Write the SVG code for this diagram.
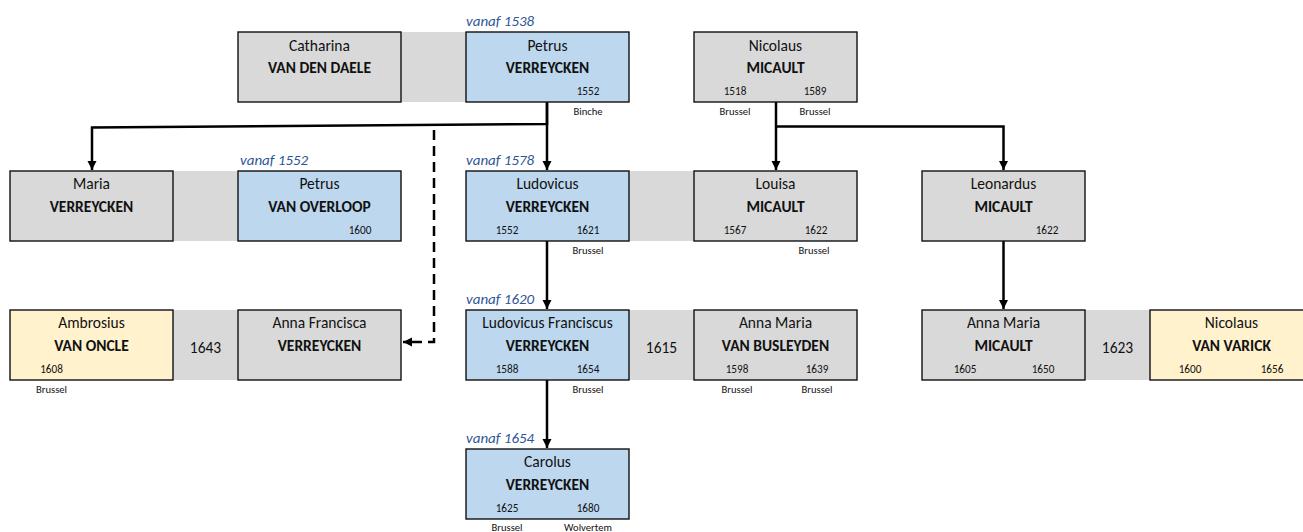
<svg xmlns="http://www.w3.org/2000/svg" width="1303" height="532" viewBox="0 0 1303 532">
<style>
text{font-family:Carlito,Lato,"Liberation Sans",sans-serif;fill:#111}
.box{stroke:#111;stroke-width:1.4}
.g{fill:#d9d9d9}
.b{fill:#bdd7ee}
.y{fill:#fff2cc}
.band{fill:#d9d9d9}
.fn{font-size:15.5px;text-anchor:middle}
.sn{font-size:15.5px;font-weight:bold;text-anchor:middle}
.yr{font-size:11.2px;text-anchor:middle}
.pl{font-size:10.6px;text-anchor:middle}
.my{font-size:15.5px;text-anchor:middle}
.va{font-size:15px;font-style:italic;fill:#2f5597}
.ln{fill:none;stroke:#000;stroke-width:2.5}
.dash{stroke-dasharray:10 6}
</style>
<defs>
<marker id="ah" markerUnits="userSpaceOnUse" markerWidth="10" markerHeight="10" refX="9" refY="4.5" orient="auto">
<path d="M0,0 L9,4.5 L0,9 z" fill="#000"/>
</marker>
</defs>

<g id="bands">
<rect class="band" x="401" y="32" width="65" height="70"/>
<rect class="band" x="173" y="171" width="65" height="70"/>
<rect class="band" x="629" y="171" width="65" height="70"/>
<rect class="band" x="173" y="310" width="65" height="70"/>
<rect class="band" x="629" y="310" width="65" height="70"/>
<rect class="band" x="1085" y="310" width="65" height="70"/>
<text class="my" x="205.5" y="353">1643</text>
<text class="my" x="661.5" y="353">1615</text>
<text class="my" x="1117.5" y="353">1623</text>
</g>

<g id="connectors">
<path class="ln" d="M547,102 V124 L92,127.5 V170" marker-end="url(#ah)"/>
<path class="ln" d="M547,102 V170" marker-end="url(#ah)"/>
<path class="ln dash" d="M434,130 V342 H403" marker-end="url(#ah)"/>
<path class="ln" d="M776,102 V170" marker-end="url(#ah)"/>
<path class="ln" d="M776,126.5 H1003.5 V170" marker-end="url(#ah)"/>
<path class="ln" d="M547,241 V309" marker-end="url(#ah)"/>
<path class="ln" d="M1003.5,241 V309" marker-end="url(#ah)"/>
<path class="ln" d="M547,380 V448" marker-end="url(#ah)"/>
</g>

<g id="catharina">
<rect class="box g" x="238" y="32" width="163" height="70"/>
<text class="fn" x="319.5" y="51">Catharina</text>
<text class="sn" x="319.5" y="73">VAN DEN DAELE</text>
</g>

<g id="petrus">
<text class="va" x="466" y="26">vanaf 1538</text>
<rect class="box b" x="466" y="32" width="163" height="70"/>
<text class="fn" x="547.5" y="51">Petrus</text>
<text class="sn" x="547.5" y="73">VERREYCKEN</text>
<text class="yr" x="588" y="95">1552</text>
<text class="pl" x="588" y="115">Binche</text>
</g>

<g id="nicolaus-micault">
<rect class="box g" x="694" y="32" width="163" height="70"/>
<text class="fn" x="775.5" y="51">Nicolaus</text>
<text class="sn" x="775.5" y="73">MICAULT</text>
<text class="yr" x="735" y="95">1518</text>
<text class="yr" x="815" y="95">1589</text>
<text class="pl" x="735" y="115">Brussel</text>
<text class="pl" x="815" y="115">Brussel</text>
</g>

<g id="maria">
<rect class="box g" x="10" y="171" width="163" height="70"/>
<text class="fn" x="91.5" y="189">Maria</text>
<text class="sn" x="91.5" y="212">VERREYCKEN</text>
</g>

<g id="petrus-van-overloop">
<text class="va" x="240" y="165">vanaf 1552</text>
<rect class="box b" x="238" y="171" width="163" height="70"/>
<text class="fn" x="319.5" y="189">Petrus</text>
<text class="sn" x="319.5" y="212">VAN OVERLOOP</text>
<text class="yr" x="360" y="234">1600</text>
</g>

<g id="ludovicus">
<text class="va" x="466" y="165">vanaf 1578</text>
<rect class="box b" x="466" y="171" width="163" height="70"/>
<text class="fn" x="547.5" y="189">Ludovicus</text>
<text class="sn" x="547.5" y="212">VERREYCKEN</text>
<text class="yr" x="507" y="234">1552</text>
<text class="yr" x="588" y="234">1621</text>
<text class="pl" x="588" y="254">Brussel</text>
</g>

<g id="louisa">
<rect class="box g" x="694" y="171" width="163" height="70"/>
<text class="fn" x="775.5" y="189">Louisa</text>
<text class="sn" x="775.5" y="212">MICAULT</text>
<text class="yr" x="735" y="234">1567</text>
<text class="yr" x="816" y="234">1622</text>
<text class="pl" x="814" y="254">Brussel</text>
</g>

<g id="leonardus">
<rect class="box g" x="922" y="171" width="163" height="70"/>
<text class="fn" x="1003.5" y="189">Leonardus</text>
<text class="sn" x="1003.5" y="212">MICAULT</text>
<text class="yr" x="1047" y="234">1622</text>
</g>

<g id="ambrosius">
<rect class="box y" x="10" y="310" width="163" height="70"/>
<text class="fn" x="91.5" y="328">Ambrosius</text>
<text class="sn" x="91.5" y="351">VAN ONCLE</text>
<text class="yr" x="51.5" y="373">1608</text>
<text class="pl" x="51.5" y="393">Brussel</text>
</g>

<g id="anna-francisca">
<rect class="box g" x="238" y="310" width="163" height="70"/>
<text class="fn" x="319.5" y="328">Anna Francisca</text>
<text class="sn" x="319.5" y="351">VERREYCKEN</text>
</g>

<g id="ludovicus-franciscus">
<text class="va" x="466" y="304">vanaf 1620</text>
<rect class="box b" x="466" y="310" width="163" height="70"/>
<text class="fn" x="547.5" y="328">Ludovicus Franciscus</text>
<text class="sn" x="547.5" y="351">VERREYCKEN</text>
<text class="yr" x="507" y="373">1588</text>
<text class="yr" x="588" y="373">1654</text>
<text class="pl" x="588" y="393">Brussel</text>
</g>

<g id="anna-maria-van-busleyden">
<rect class="box g" x="694" y="310" width="163" height="70"/>
<text class="fn" x="775.5" y="328">Anna Maria</text>
<text class="sn" x="775.5" y="351">VAN BUSLEYDEN</text>
<text class="yr" x="737" y="373">1598</text>
<text class="yr" x="817" y="373">1639</text>
<text class="pl" x="737" y="393">Brussel</text>
<text class="pl" x="817" y="393">Brussel</text>
</g>

<g id="anna-maria-micault">
<rect class="box g" x="922" y="310" width="163" height="70"/>
<text class="fn" x="1003.5" y="328">Anna Maria</text>
<text class="sn" x="1003.5" y="351">MICAULT</text>
<text class="yr" x="965" y="373">1605</text>
<text class="yr" x="1043" y="373">1650</text>
</g>

<g id="nicolaus-van-varick">
<rect class="box y" x="1150" y="310" width="163" height="70"/>
<text class="fn" x="1231.5" y="328">Nicolaus</text>
<text class="sn" x="1231.5" y="351">VAN VARICK</text>
<text class="yr" x="1190" y="373">1600</text>
<text class="yr" x="1272" y="373">1656</text>
</g>

<g id="carolus">
<text class="va" x="466" y="443">vanaf 1654</text>
<rect class="box b" x="466" y="449" width="163" height="70"/>
<text class="fn" x="547.5" y="467">Carolus</text>
<text class="sn" x="547.5" y="490">VERREYCKEN</text>
<text class="yr" x="507" y="512">1625</text>
<text class="yr" x="588" y="512">1680</text>
<text class="pl" x="507" y="531">Brussel</text>
<text class="pl" x="588" y="531">Wolvertem</text>
</g>
</svg>
